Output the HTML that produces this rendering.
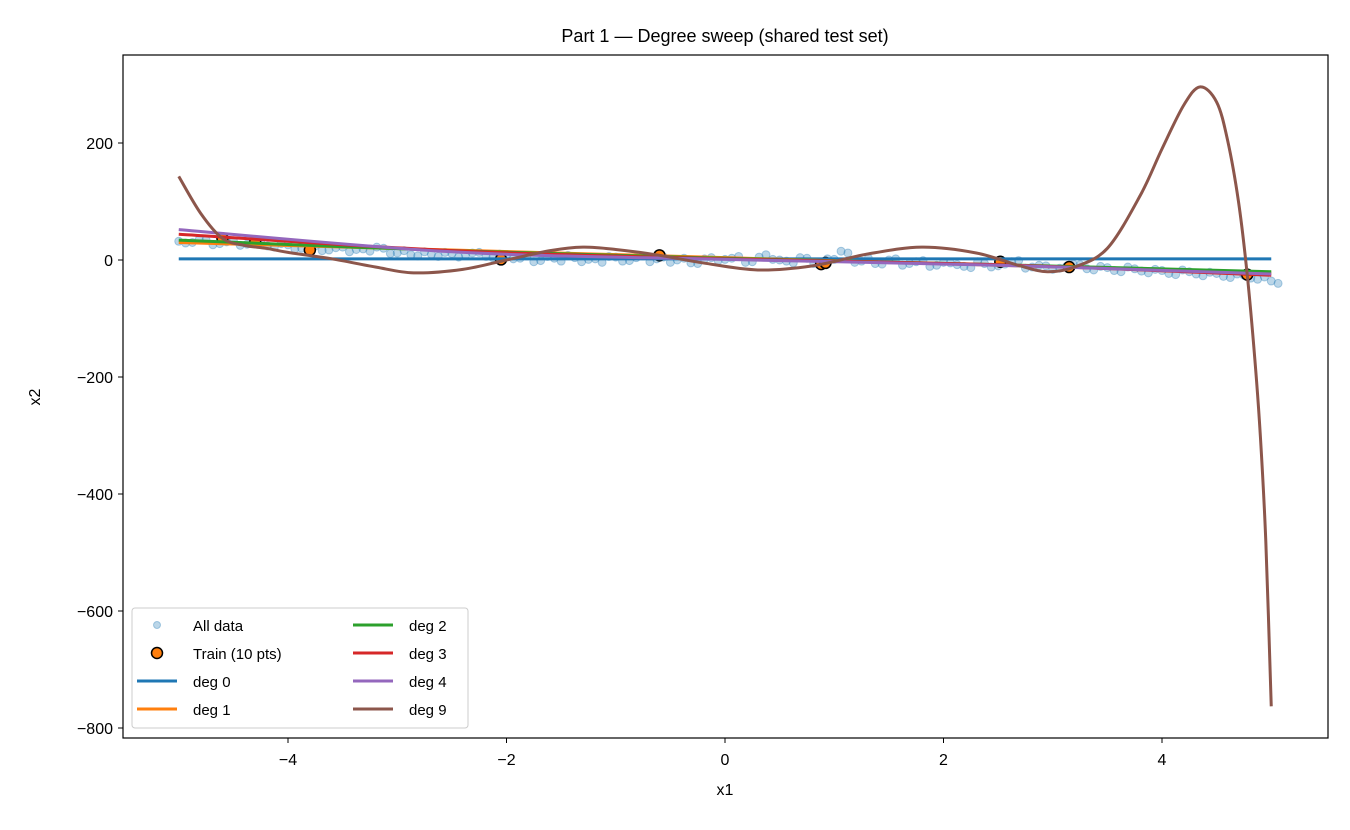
<!DOCTYPE html>
<html><head><meta charset="utf-8"><style>
body{margin:0;background:#fff}
svg text{font-family:"Liberation Sans","DejaVu Sans",sans-serif;fill:#000}
</style></head><body>
<svg id="chart" width="1350" height="825" xmlns="http://www.w3.org/2000/svg">
<rect width="1350" height="825" fill="#fff"/>
<text x="725" y="42" font-size="18" text-anchor="middle">Part 1 — Degree sweep (shared test set)</text>
<g id="plot"></g>
<rect x="123" y="55" width="1205" height="683" fill="none" stroke="#000" stroke-width="1.2"/>
<g id="axes"></g>
<text x="725" y="795" font-size="16" text-anchor="middle">x1</text>
<text x="40" y="397" font-size="16" text-anchor="middle" transform="rotate(-90 40 397)">x2</text>
<g id="legend"></g>
</svg>
<script>
const xTicks=[-4,-2,0,2,4];
const yTicks=[200,0,-200,-400,-600,-800];
const dataY=[32,30,34,28,33,27,30,22,26,20,24,17,22,18,15,20,12,9,14,6,11,8,13,4,9,3,-3,6,-2,4,1,-4,5,-1,7,2,-4,3,-6,4,1,6,-3,9,0,-5,3,-8,1,12,-2,-6,0,-9,-3,-11,-4,-8,-13,-6,-10,-3,-14,-9,-16,-11,-8,-17,-13,-20,-15,-22,-18,-25,-20,-27,-23,-30,-26,-33,-36];
const dataY2=[29,35,26,31,25,32,24,28,19,25,16,21,14,19,22,11,16,7,10,13,5,12,6,10,2,7,-1,3,8,-3,2,6,-2,4,-3,5,0,-5,2,-1,3,-4,5,1,-2,4,-6,2,15,-4,3,-7,2,-6,-1,-9,-5,-11,-3,-12,-7,-1,-12,-10,-14,-7,-15,-11,-18,-12,-19,-16,-23,-17,-24,-21,-28,-24,-31,-29,-40];
const trainX=[-4.6,-4.3,-3.8,-2.05,-0.6,0.88,0.92,2.52,3.15,4.78];
const trainY=[37,31,17,1,8,-7,-5,-3,-12,-25];
const fitX=[-5,-2.5,0,2.5,5];
const deg0=[2,2,2,2,2];
const deg1=[30,17,4,-9,-22];
const deg2=[34,16,3,-8,-20];
const deg3=[44,16,2,-8,-26];
const deg4=[52,14,1,-9,-24];
const deg9X=[-5,-4.8,-4.6,-4.4,-4.2,-4,-3.6,-3.2,-2.85,-2.4,-2,-1.6,-1.3,-1,-0.6,-0.2,0.3,0.8,1.3,1.8,2.3,2.7,2.95,3.2,3.5,3.8,4.0,4.2,4.35,4.5,4.6,4.7,4.78,4.85,4.9,4.95,5];
const deg9Y=[143,80,37,25,20,13,2,-12,-22,-16,0,16,22,18,8,-5,-17,-10,10,22,12,-10,-20,-12,20,110,190,265,296,270,205,100,-25,-170,-300,-480,-763];
const NS="http://www.w3.org/2000/svg";
const sx=v=>725+v*109.25, sy=v=>260-v*0.585;
const plot=document.getElementById('plot'),axes=document.getElementById('axes'),legend=document.getElementById('legend');
function mk(t,a,p){const e=document.createElementNS(NS,t);for(const k in a)e.setAttribute(k,a[k]);p.appendChild(e);return e;}
function smooth(xs,ys){const P=xs.map((x,i)=>[sx(x),sy(ys[i])]);let d='M'+P[0][0]+','+P[0][1];
for(let i=0;i<P.length-1;i++){const p0=P[i-1]||P[i],p1=P[i],p2=P[i+1],p3=P[i+2]||p2;
d+=' C'+(p1[0]+(p2[0]-p0[0])/6)+','+(p1[1]+(p2[1]-p0[1])/6)+' '+(p2[0]-(p3[0]-p1[0])/6)+','+(p2[1]-(p3[1]-p1[1])/6)+' '+p2[0]+','+p2[1];}return d;}
xTicks.forEach(v=>{const l=mk('line',{x1:sx(v),x2:sx(v),y1:738,y2:743,stroke:'#000'},axes);

const t=mk('text',{x:sx(v),y:765,'font-size':16,'text-anchor':'middle'},axes);t.textContent=v<0?'\u2212'+(-v):v;
});
yTicks.forEach(v=>{const l=mk('line',{x1:118,x2:123,y1:sy(v),y2:sy(v),stroke:'#000'},axes);

const t=mk('text',{x:113,y:sy(v)+6,'font-size':16,'text-anchor':'end'},axes);t.textContent=v<0?'\u2212'+(-v):v;
});
dataY.forEach((v,i)=>{const c=mk('circle',{cx:sx(-5+i*0.125),cy:sy(v),r:4,fill:'rgba(31,119,180,0.3)',stroke:'rgba(31,119,180,0.35)'},plot);
});
dataY2.forEach((v,i)=>{const c=mk('circle',{cx:sx(-4.9375+i*0.125),cy:sy(v),r:4,fill:'rgba(31,119,180,0.3)',stroke:'rgba(31,119,180,0.35)'},plot);
});
trainX.forEach((x,i)=>{const c=mk('circle',{cx:sx(x),cy:sy(trainY[i]),r:5.5,fill:'#ff7f0e',stroke:'#000','stroke-width':1.5},plot);
});
const fits=[[deg0,'#1f77b4','deg 0'],[deg1,'#ff7f0e','deg 1'],[deg2,'#2ca02c','deg 2'],[deg3,'#d62728','deg 3'],[deg4,'#9467bd','deg 4']];
fits.forEach(f=>{const p=mk('path',{d:smooth(fitX,f[0]),fill:'none',stroke:f[1],'stroke-width':3},plot);
});
const p9=mk('path',{d:smooth(deg9X,deg9Y),fill:'none',stroke:'#8c564b','stroke-width':3},plot);

const box=mk('rect',{x:132,y:608,width:336,height:120,rx:3,fill:'#fff','fill-opacity':0.8,stroke:'#ccc'},legend);

const items=[['All data','dot'],['Train (10 pts)','train'],['deg 0','#1f77b4'],['deg 1','#ff7f0e'],['deg 2','#2ca02c'],['deg 3','#d62728'],['deg 4','#9467bd'],['deg 9','#8c564b']];
items.forEach((it,i)=>{const col=Math.floor(i/4),row=i%4;const bx=col?353:137,ty=626+row*28,g=mk('g',{},legend);

if(it[1]==='dot')mk('circle',{cx:bx+20,cy:ty-1,r:3.5,fill:'rgba(31,119,180,0.3)',stroke:'rgba(31,119,180,0.35)'},g);
else if(it[1]==='train')mk('circle',{cx:bx+20,cy:ty-1,r:5.5,fill:'#ff7f0e',stroke:'#000','stroke-width':1.5},g);
else mk('line',{x1:bx,x2:bx+40,y1:ty-1,y2:ty-1,stroke:it[1],'stroke-width':3},g);
const t=mk('text',{x:bx+56,y:ty+5,'font-size':15},g);t.textContent=it[0];});
</script>
</body></html>
